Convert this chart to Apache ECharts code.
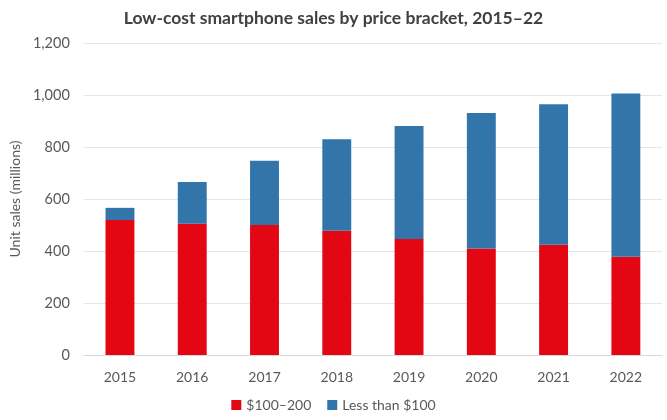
<!DOCTYPE html>
<html><head><meta charset="utf-8">
<script src="https://cdn.jsdelivr.net/npm/echarts@6/dist/echarts.min.js"></script>
<style>html,body{margin:0;padding:0;background:#fff}#c{width:667px;height:420px}</style>
</head><body><div id="c"></div>
<script>
const years = ['2015','2016','2017','2018','2019','2020','2021','2022'];
const mid = [519, 505, 500, 478, 446, 410, 424, 378];      // $100–200
const low = [47, 160, 247, 352, 435, 521, 540, 628];       // Less than $100
const yTicks = [0, 200, 400, 600, 800, 1000, 1200];

const font = 'Lato, "Open Sans", sans-serif';
const chart = echarts.init(document.getElementById('c'));
chart.setOption({
  animation: false,
  title: {
    text: 'Low-cost smartphone sales by price bracket, 2015–22',
    left: 'center', top: 4,
    textStyle: {fontFamily: font, fontSize: 17.5, fontWeight: 'bold', color: '#404040'}
  },
  legend: {
    bottom: 3, left: 'center', itemWidth: 10, itemHeight: 10, itemGap: 16,
    icon: 'rect',
    textStyle: {fontFamily: font, fontSize: 14, color: '#595959'}
  },
  grid: {left: 81, right: 5, top: 43, bottom: 65, containLabel: false},
  xAxis: {
    type: 'category', data: years,
    axisLine: {lineStyle: {color: '#D9D9D9'}},
    axisTick: {show: false},
    axisLabel: {fontFamily: font, fontSize: 14, color: '#595959', margin: 15}
  },
  yAxis: {
    type: 'value', min: 0, max: 1200, interval: 200,
    name: 'Unit sales (millions)', nameLocation: 'middle', nameGap: 58,
    nameTextStyle: {fontFamily: font, fontSize: 14, color: '#595959'},
    axisLine: {show: false}, axisTick: {show: false},
    splitLine: {lineStyle: {color: '#E6E6E6'}},
    axisLabel: {fontFamily: font, fontSize: 14.5, color: '#595959', margin: 14,
      formatter: v => yTicks.includes(v) ? v.toLocaleString('en-US') : ''}
  },
  series: [
    {name: '$100–200', type: 'bar', stack: 't', data: mid, barWidth: '40%',
     itemStyle: {color: '#E30613'}},
    {name: 'Less than $100', type: 'bar', stack: 't', data: low, barWidth: '40%',
     itemStyle: {color: '#3275AA'}}
  ]
});
</script></body></html>
